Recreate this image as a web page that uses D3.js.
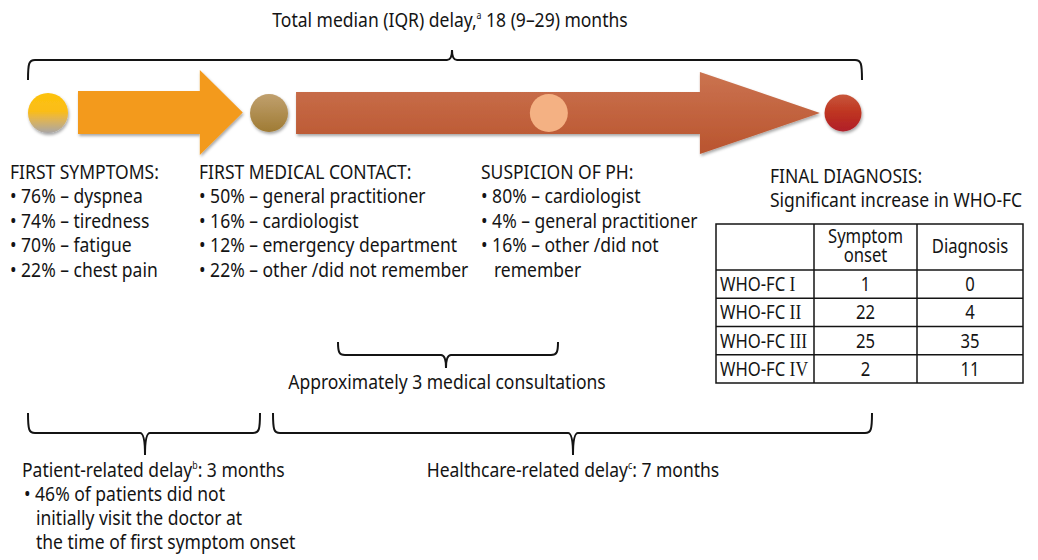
<!DOCTYPE html>
<html>
<head>
<meta charset="utf-8" />
<script src="https://cdn.jsdelivr.net/npm/d3@7"></script>
<style>
  body { margin: 0; background: #fff; }
  text { font-family: 'Noto Sans', sans-serif; fill: #141414; }
</style>
</head>
<body>
<script>
var width = 1038;
var height = 560;
var fontSize = 20;
// the source uses a condensed face; squeeze the glyphs horizontally
var sx = 0.875;

// data
var titleParts = ['Total median (IQR) delay,', 'a', ' 18 (9–29) months'];
var stageNames = ['FIRST SYMPTOMS:', 'FIRST MEDICAL CONTACT:', 'SUSPICION OF PH:'];
var symptomItems = ['76% – dyspnea', '74% – tiredness', '70% – fatigue', '22% – chest pain'];
var contactItems = ['50% – general practitioner', '16% – cardiologist', '12% – emergency department', '22% – other /did not remember'];
var suspicionItems = ['80% – cardiologist', '4% – general practitioner', '16% – other /did not', 'remember'];
var finalLines = ['FINAL DIAGNOSIS:', 'Significant increase in WHO-FC'];
var tableHeaders = [[''], ['Symptom', 'onset'], ['Diagnosis']];
var whoClasses = ['I', 'II', 'III', 'IV'];
var symptomOnset = [1, 22, 25, 2];
var diagnosis = [0, 4, 35, 11];
var consultText = 'Approximately 3 medical consultations';
var patientParts = ['Patient-related delay', 'b', ': 3 months'];
var patientItems = ['46% of patients did not', 'initially visit the doctor at', 'the time of first symptom onset'];
var healthParts = ['Healthcare-related delay', 'c', ': 7 months'];

// stage positions along the timeline (0 = first symptoms, 100 = final diagnosis)
var stagePos = [0, 27.8, 63, 100];
var stageFill = ['url(#g0)', 'url(#g1)', '#f4b183', 'url(#g3)'];
var stageR = [20, 19, 19, 18.5];

var x = d3.scaleLinear().domain([0, 100]).range([48, 843]);

var svg = d3.select('body')
    .append('svg')
    .attr('width', width)
    .attr('height', height);

var defs = svg.append('defs');
function grad(id, stops) {
    var g = defs.append('linearGradient').attr('id', id)
        .attr('x1', 0).attr('y1', 0).attr('x2', 0).attr('y2', 1);
    stops.forEach(function (s) {
        g.append('stop').attr('offset', s[0]).attr('stop-color', s[1]);
    });
}
grad('g0', [[0, '#fdc20f'], [0.45, '#fbbd14'], [0.62, '#e6b64a'], [1, '#a9a6a6']]);
grad('g1', [[0, '#c0a06e'], [1, '#9f7b34']]);
grad('g3', [[0, '#c8573b'], [0.5, '#be3320'], [1, '#b01f2a']]);
grad('gRed', [[0, '#cb7350'], [1, '#b9542e']]);

var shadow = defs.append('filter').attr('id', 'sh')
    .attr('x', '-20%').attr('y', '-20%').attr('width', '140%').attr('height', '150%');
shadow.append('feDropShadow').attr('dx', 1).attr('dy', 2)
    .attr('stdDeviation', 1.6).attr('flood-color', '#000').attr('flood-opacity', 0.35);

// arrows
function arrowPath(x0, xh, x1, yc, sh, hh) {
    return 'M' + x0 + ',' + (yc - sh) + 'H' + xh + 'V' + (yc - hh) + 'L' + x1 + ',' + yc +
        'L' + xh + ',' + (yc + hh) + 'V' + (yc + sh) + 'H' + x0 + 'Z';
}
svg.append('path')
    .attr('d', arrowPath(x(0) + 30, x(19.1), x(24.5), 112.5, 21.5, 42.5))
    .attr('fill', '#f39a1e')
    .attr('filter', 'url(#sh)');
svg.append('path')
    .attr('d', arrowPath(x(31.2), x(82), x(97.1), 113, 21, 41))
    .attr('fill', 'url(#gRed)')
    .attr('filter', 'url(#sh)');

svg.selectAll('circle.stage')
    .data(stagePos)
    .enter()
    .append('circle')
    .attr('class', 'stage')
    .attr('cx', function (d) { return x(d); })
    .attr('cy', 113)
    .attr('r', function (d, i) { return stageR[i]; })
    .attr('fill', function (d, i) { return stageFill[i]; })
    .attr('filter', function (d, i) { return i == 2 ? null : 'url(#sh)'; });

// curly brackets
function brace(x1, x2, xm, yh, yEnd, yTip) {
    var dir = yTip < yh ? -1 : 1;
    var c = 7;
    return 'M' + x1 + ',' + yEnd +
        'C' + x1 + ',' + (yh - dir * 3) + ' ' + (x1 + 1) + ',' + yh + ' ' + (x1 + c) + ',' + yh +
        'H' + (xm - 5) +
        'Q' + xm + ',' + yh + ' ' + xm + ',' + yTip +
        'Q' + xm + ',' + yh + ' ' + (xm + 5) + ',' + yh +
        'H' + (x2 - c) +
        'C' + (x2 - 1) + ',' + yh + ' ' + x2 + ',' + (yh - dir * 3) + ' ' + x2 + ',' + yEnd;
}
var braces = [
    [28, 862, 452, 60, 80, 50],
    [338, 558, 446, 355, 342, 368],
    [28, 260, 145, 433, 413, 455],
    [273, 872, 573, 433, 413, 455]
];
svg.selectAll('path.brace')
    .data(braces)
    .enter()
    .append('path')
    .attr('class', 'brace')
    .attr('d', function (d) { return brace.apply(null, d); })
    .attr('fill', 'none')
    .attr('stroke', '#141414')
    .attr('stroke-width', 2);

// text helpers
function squeeze(sel, xp) {
    return sel.attr('x', xp / sx).attr('transform', 'scale(' + sx + ',1)');
}
function supText(xp, yp, parts, anchor) {
    var t = squeeze(svg.append('text'), xp)
        .attr('y', yp)
        .attr('font-size', fontSize)
        .attr('text-anchor', anchor || 'start');
    t.append('tspan').text(parts[0]);
    t.append('tspan').attr('font-size', 10).attr('dy', -8).text(parts[1]);
    t.append('tspan').attr('dy', 8).text(parts[2]);
    return t;
}
// one text per block, lines as tspans: [text, indent]
function block(xp, y0, lines, step) {
    var t = svg.append('text')
        .attr('transform', 'scale(' + sx + ',1)')
        .attr('y', y0)
        .attr('font-size', fontSize);
    t.selectAll('tspan')
        .data(lines)
        .enter()
        .append('tspan')
        .attr('x', function (d) { return (xp + d[1]) / sx; })
        .attr('dy', function (d, i) { return i == 0 ? 0 : (step || 24.5); })
        .text(function (d) { return d[0]; });
    return t;
}

supText(450, 27, titleParts, 'middle');

var colX = [10, 199, 481];
var stageItems = [symptomItems, contactItems, suspicionItems];
stageNames.forEach(function (name, i) {
    var lines = [[name, 0]].concat(stageItems[i].map(function (d, j) {
        return (i == 2 && j == 3) ? [d, 13] : ['• ' + d, 0];
    }));
    block(colX[i], 179, lines);
});

block(770, 183, finalLines.map(function (d) { return [d, 0]; }));

// table
var colEdges = [716, 814, 917, 1023];
var tableTop = 224, headBottom = 270, tableBottom = 383;
var rowY = d3.scaleBand().domain(whoClasses).range([headBottom, tableBottom]);
var tbl = svg.append('g');
tbl.append('rect')
    .attr('x', colEdges[0]).attr('y', tableTop)
    .attr('width', colEdges[3] - colEdges[0]).attr('height', tableBottom - tableTop)
    .attr('fill', 'none').attr('stroke', '#141414').attr('stroke-width', 1.5);
tbl.selectAll('line.col')
    .data(colEdges.slice(1, 3))
    .enter().append('line')
    .attr('x1', function (d) { return d; }).attr('x2', function (d) { return d; })
    .attr('y1', tableTop).attr('y2', tableBottom)
    .attr('stroke', '#141414').attr('stroke-width', 1.5);
tbl.selectAll('line.row')
    .data(whoClasses)
    .enter().append('line')
    .attr('x1', colEdges[0]).attr('x2', colEdges[3])
    .attr('y1', function (d) { return rowY(d); }).attr('y2', function (d) { return rowY(d); })
    .attr('stroke', '#141414').attr('stroke-width', 1.5);

tableHeaders.forEach(function (h, i) {
    if (!h[0]) return;
    var cx = (colEdges[i] + colEdges[i + 1]) / 2;
    var t = tbl.append('text')
        .attr('transform', 'scale(' + sx + ',1)')
        .attr('y', (tableTop + headBottom) / 2 + 6 - (h.length - 1) / 2 * 19)
        .attr('font-size', 19)
        .attr('text-anchor', 'middle');
    h.forEach(function (line, j) {
        t.append('tspan').attr('x', cx / sx).attr('dy', j == 0 ? 0 : 19).text(line);
    });
});

var rows = tbl.selectAll('g.row')
    .data(whoClasses)
    .enter().append('g')
    .attr('class', 'row')
    .attr('transform', function (d) { return 'translate(0,' + (rowY(d) + rowY.bandwidth() / 2 + 7) + ')'; });
var lab = squeeze(rows.append('text'), colEdges[0] + 4)
    .attr('font-size', 19);
lab.append('tspan').text('WHO-FC ');
lab.append('tspan').style('font-family', "'Liberation Serif', serif").attr('font-size', 20)
    .text(function (d) { return d; });
squeeze(rows.append('text'), (colEdges[1] + colEdges[2]) / 2)
    .attr('text-anchor', 'middle').attr('font-size', 19)
    .text(function (d, i) { return symptomOnset[i]; });
squeeze(rows.append('text'), (colEdges[2] + colEdges[3]) / 2)
    .attr('text-anchor', 'middle').attr('font-size', 19)
    .text(function (d, i) { return diagnosis[i]; });

// bottom labels
squeeze(svg.append('text'), 447)
    .attr('y', 389)
    .attr('font-size', fontSize)
    .attr('text-anchor', 'middle')
    .text(consultText);

// patient-related delay: heading with superscript, then wrapped bullet
var pt = supText(22, 477, patientParts);
patientItems.forEach(function (d, i) {
    pt.append('tspan')
        .attr('x', (i == 0 ? 24 : 36) / sx)
        .attr('dy', 24)
        .text(i == 0 ? '• ' + d : d);
});
supText(573, 477, healthParts, 'middle');
</script>
</body>
</html>
